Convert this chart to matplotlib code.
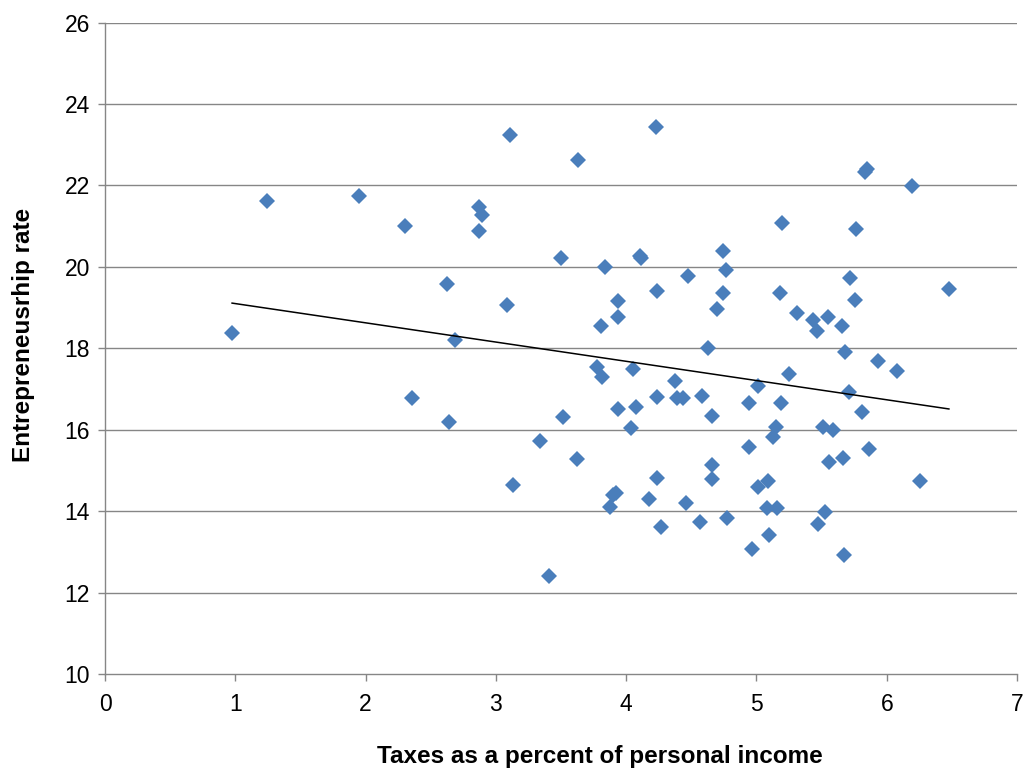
import numpy as np
import matplotlib
matplotlib.use("Agg")
import matplotlib.pyplot as plt

# taxes as % of personal income vs entrepreneurship rate
tax_pct = [0.975, 1.243, 1.949, 2.302, 2.356, 2.625, 2.640, 2.686, 2.870, 2.893,
           2.870, 3.085, 3.108, 3.131, 3.338, 3.408, 3.500, 3.515, 3.630, 3.622,
           3.776, 3.807, 3.814, 3.837, 3.876, 3.899, 3.922, 3.937, 3.937, 3.937,
           4.037, 4.052, 4.075, 4.106, 4.114, 4.175, 4.229, 4.236, 4.236, 4.236,
           4.267, 4.374, 4.390, 4.436, 4.459, 4.474, 4.566, 4.582, 4.628, 4.658,
           4.658, 4.658, 4.697, 4.743, 4.743, 4.766, 4.774, 4.942, 4.942, 4.965,
           5.012, 5.012, 5.088, 5.081, 5.096, 5.157, 5.127, 5.150, 5.188, 5.180,
           5.196, 5.249, 5.311, 5.434, 5.464, 5.472, 5.510, 5.526, 5.549, 5.556,
           5.587, 5.656, 5.664, 5.672, 5.679, 5.710, 5.718, 5.756, 5.764, 5.810,
           5.833, 5.848, 5.863, 5.932, 6.078, 6.193, 6.255, 6.477]
entre_rate = [18.38, 21.62, 21.74, 21.00, 16.78, 19.58, 16.19, 18.21, 21.47, 21.28,
              20.88, 19.07, 23.24, 14.64, 15.73, 12.41, 20.22, 16.31, 22.63, 15.28,
              17.54, 18.55, 17.30, 20.00, 14.10, 14.40, 14.45, 19.16, 18.77, 16.51,
              16.04, 17.49, 16.56, 20.27, 20.22, 14.30, 23.44, 19.41, 16.81, 14.82,
              13.61, 17.20, 16.78, 16.78, 14.20, 19.78, 13.74, 16.83, 18.01, 16.34,
              15.14, 14.79, 18.97, 20.39, 19.36, 19.92, 13.83, 16.66, 15.58, 13.07,
              17.08, 14.60, 14.74, 14.08, 13.42, 14.08, 15.82, 16.07, 16.66, 19.36,
              21.08, 17.37, 18.87, 18.70, 18.43, 13.69, 16.07, 13.98, 18.77, 15.21,
              16.00, 18.55, 15.31, 12.93, 17.91, 16.93, 19.73, 19.19, 20.93, 16.44,
              22.33, 22.40, 15.53, 17.69, 17.44, 21.99, 14.74, 19.46]

trend_x = [0.975, 6.477]
trend_y = [19.11, 16.51]

x_ticks = [0, 1, 2, 3, 4, 5, 6, 7]
y_ticks = [10, 12, 14, 16, 18, 20, 22, 24, 26]

plt.rcParams['font.family'] = ['Liberation Sans', 'DejaVu Sans']

fig = plt.figure(figsize=(10.36, 7.71), dpi=100)
ax = fig.add_axes([0.1014, 0.1258, 0.8803, 0.8449])

grid_col = '#868686'
for yv in y_ticks[1:]:
    ax.axhline(yv, color=grid_col, lw=1.0, zorder=1)

ax.plot(tax_pct, entre_rate, ls='none', marker='D', ms=8.6, mew=0,
        color='#4A7EBB', zorder=3)
ax.plot(trend_x, trend_y, color='black', lw=1.1, zorder=4)

ax.set_xlim(0, 7)
ax.set_ylim(10, 26)
ax.set_xticks(x_ticks)
ax.set_yticks(y_ticks)

for s in ['top', 'right']:
    ax.spines[s].set_visible(False)
for s in ['left', 'bottom']:
    ax.spines[s].set_color(grid_col)
    ax.spines[s].set_linewidth(1.0)

ax.tick_params(axis='both', colors=grid_col, labelcolor='black', labelsize=16.5,
               length=5, width=1.0, direction='out')
ax.tick_params(axis='y', pad=6)
ax.tick_params(axis='x', pad=9)

ax.set_xlabel('Taxes as a percent of personal income', fontsize=17.5, fontweight='bold')
ax.xaxis.set_label_coords(0.543, -0.109)
ax.set_ylabel('Entrepreneusrhip rate', fontsize=17.5, fontweight='bold')
ax.yaxis.set_label_coords(-0.077, 0.520)

fig.savefig('out.png', dpi=100)
